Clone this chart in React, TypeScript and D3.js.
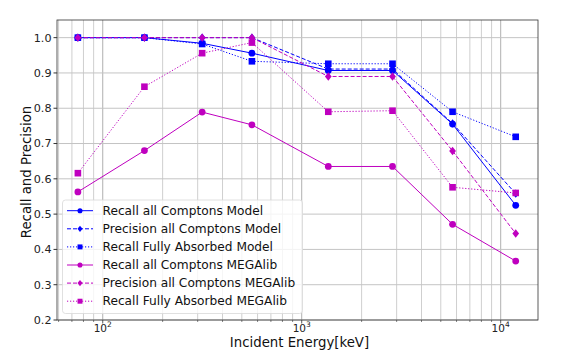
import * as d3 from "d3"
import React, { useEffect, useRef } from "react"

// Incident energies (keV) and curves.
const energies = [75, 162, 316, 562, 1360, 2860, 5730, 11900]

const recallModel = [1.0, 1.0, 0.984, 0.956, 0.907, 0.907, 0.755, 0.525]
const precisionModel = [1.0, 1.0, 1.0, 1.0, 0.911, 0.911, 0.757, 0.558]
const recallFAModel = [1.0, 1.0, 0.982, 0.933, 0.926, 0.926, 0.79, 0.719]
const recallMega = [0.563, 0.68, 0.789, 0.753, 0.635, 0.635, 0.471, 0.367]
const precisionMega = [1.0, 1.0, 1.0, 1.0, 0.89, 0.89, 0.679, 0.445]
const recallFAMega = [0.616, 0.861, 0.956, 0.986, 0.79, 0.793, 0.576, 0.56]

const yTicks = [0.2, 0.3, 0.4, 0.5, 0.6, 0.7, 0.8, 0.9, 1.0]

const series = [
  { name: "Recall all Comptons Model", values: recallModel, color: "#0000ff", dash: "", marker: "circle" },
  { name: "Precision all Comptons Model", values: precisionModel, color: "#0000ff", dash: "4,2", marker: "diamond" },
  { name: "Recall Fully Absorbed Model", values: recallFAModel, color: "#0000ff", dash: "1.2,1.8", marker: "square" },
  { name: "Recall all Comptons MEGAlib", values: recallMega, color: "#bf00bf", dash: "", marker: "circle" },
  { name: "Precision all Comptons MEGAlib", values: precisionMega, color: "#bf00bf", dash: "4,2", marker: "diamond" },
  { name: "Recall Fully Absorbed MEGAlib", values: recallFAMega, color: "#bf00bf", dash: "1.2,1.8", marker: "square" },
]

const W = 568
const H = 357
const margin = { left: 57, right: 30, top: 20, bottom: 37 }

const drawMarker = (g: any, type: string, x: number, y: number, color: string, k = 1) => {
  if (type === "circle") {
    g.append("circle").attr("cx", x).attr("cy", y).attr("r", 3.4 * k).attr("fill", color)
  } else if (type === "square") {
    const h = 3.3 * k
    g.append("rect").attr("x", x - h).attr("y", y - h).attr("width", 2 * h).attr("height", 2 * h).attr("fill", color)
  } else {
    const s = 4.2 * k
    g.append("path")
      .attr("d", `M${x},${y - s}L${x + s * 0.8},${y}L${x},${y + s}L${x - s * 0.8},${y}Z`)
      .attr("fill", color)
  }
}

const App = () => {
  const refSvg = useRef<SVGSVGElement>(null)

  useEffect(() => {
    const svg = d3.select(refSvg.current)
    svg.selectAll("*").remove()
    const font = "DejaVu Sans, sans-serif"

    const x = d3.scaleLog().domain([58.9, 15400]).range([margin.left, W - margin.right])
    const y = d3.scaleLinear().domain([0.2, 1.05]).range([H - margin.bottom, margin.top])

    const gGrid = svg.append("g")
    // minor + major x grid
    const minorX: number[] = []
    for (let dec = 10; dec <= 10000; dec *= 10) {
      for (let k = 1; k < 10; k++) {
        const v = dec * k
        if (v >= 58.9 && v <= 15400) minorX.push(v)
      }
    }
    gGrid.selectAll(".gx").data(minorX).join("line")
      .attr("x1", d => x(d)).attr("x2", d => x(d))
      .attr("y1", margin.top).attr("y2", H - margin.bottom)
      .attr("stroke", d => [100, 1000, 10000].includes(d) ? "#b0b0b0" : "#cfcfcf")
      .attr("stroke-width", 1)
    gGrid.selectAll(".gy").data(yTicks).join("line")
      .attr("x1", margin.left).attr("x2", W - margin.right)
      .attr("y1", d => y(d)).attr("y2", d => y(d))
      .attr("stroke", "#c4c4c4").attr("stroke-width", 1)

    // Series
    const line = d3.line<number>()
      .x((d, i) => x(energies[i]))
      .y(d => y(d))
    series.forEach(s => {
      const g = svg.append("g")
      g.append("path").datum(s.values)
        .attr("d", line)
        .attr("fill", "none")
        .attr("stroke", s.color)
        .attr("stroke-width", 1)
        .attr("stroke-dasharray", s.dash || null)
      s.values.forEach((v, i) => drawMarker(g, s.marker, x(energies[i]), y(v), s.color))
    })

    // Spines
    svg.append("rect")
      .attr("x", margin.left).attr("y", margin.top)
      .attr("width", W - margin.left - margin.right)
      .attr("height", H - margin.top - margin.bottom)
      .attr("fill", "none").attr("stroke", "#333").attr("stroke-width", 0.8)

    // Y axis
    const gY = svg.append("g")
    yTicks.forEach(t => {
      gY.append("line").attr("x1", margin.left - 3.5).attr("x2", margin.left)
        .attr("y1", y(t)).attr("y2", y(t)).attr("stroke", "#333")
      gY.append("text").attr("x", margin.left - 5.5).attr("y", y(t))
        .attr("dy", "0.35em").attr("text-anchor", "end")
        .attr("font-family", font).attr("font-size", 11.2).attr("fill", "#222")
        .text(d3.format(".1f")(t))
    })

    // X axis
    const gX = svg.append("g")
    const yb = H - margin.bottom
    minorX.forEach(v => {
      const major = [100, 1000, 10000].includes(v)
      gX.append("line").attr("x1", x(v)).attr("x2", x(v))
        .attr("y1", yb).attr("y2", yb + (major ? 3.5 : 2)).attr("stroke", "#333")
        .attr("stroke-width", major ? 0.8 : 0.6)
    })
    ;[2, 3, 4].forEach(p => {
      const t = gX.append("text").attr("x", x(Math.pow(10, p))).attr("y", 331.5)
        .attr("text-anchor", "middle").attr("font-family", font)
        .attr("font-size", 10.5).attr("fill", "#222")
      t.append("tspan").text("10")
      t.append("tspan").attr("dy", -4.2).attr("font-size", 7.5).text(String(p))
    })

    svg.append("text").attr("x", (margin.left + W - margin.right) / 2 + 2).attr("y", 346.5)
      .attr("text-anchor", "middle").attr("font-family", font).attr("font-size", 13.3)
      .attr("fill", "#111").text("Incident Energy[keV]")
    svg.append("text")
      .attr("transform", `translate(31,${(margin.top + H - margin.bottom) / 2 + 2}) rotate(-90)`)
      .attr("text-anchor", "middle").attr("font-family", font).attr("font-size", 13.3)
      .attr("fill", "#111").text("Recall and Precision")

    // Legend
    const lg = svg.append("g")
    lg.append("rect").attr("x", 62.5).attr("y", 200).attr("width", 240).attr("height", 113.5)
      .attr("rx", 3).attr("fill", "white").attr("fill-opacity", 0.8)
      .attr("stroke", "#d8d8d8").attr("stroke-width", 0.8)
    series.forEach((s, i) => {
      const ly = 210.7 + i * 18.1
      lg.append("line").attr("x1", 67).attr("x2", 93).attr("y1", ly).attr("y2", ly)
        .attr("stroke", s.color).attr("stroke-width", 1)
        .attr("stroke-dasharray", s.dash || null)
      drawMarker(lg, s.marker, 80, ly, s.color, 0.75)
      lg.append("text").attr("x", 102.5).attr("y", ly).attr("dy", "0.35em")
        .attr("font-family", font).attr("font-size", 12.2).attr("fill", "#111")
        .text(s.name)
    })
  }, [])

  return (
    <svg ref={refSvg} width={W} height={H}
      style={{ position: "absolute", left: 0, top: 0, background: "white" }} />
  )
}

export default App
